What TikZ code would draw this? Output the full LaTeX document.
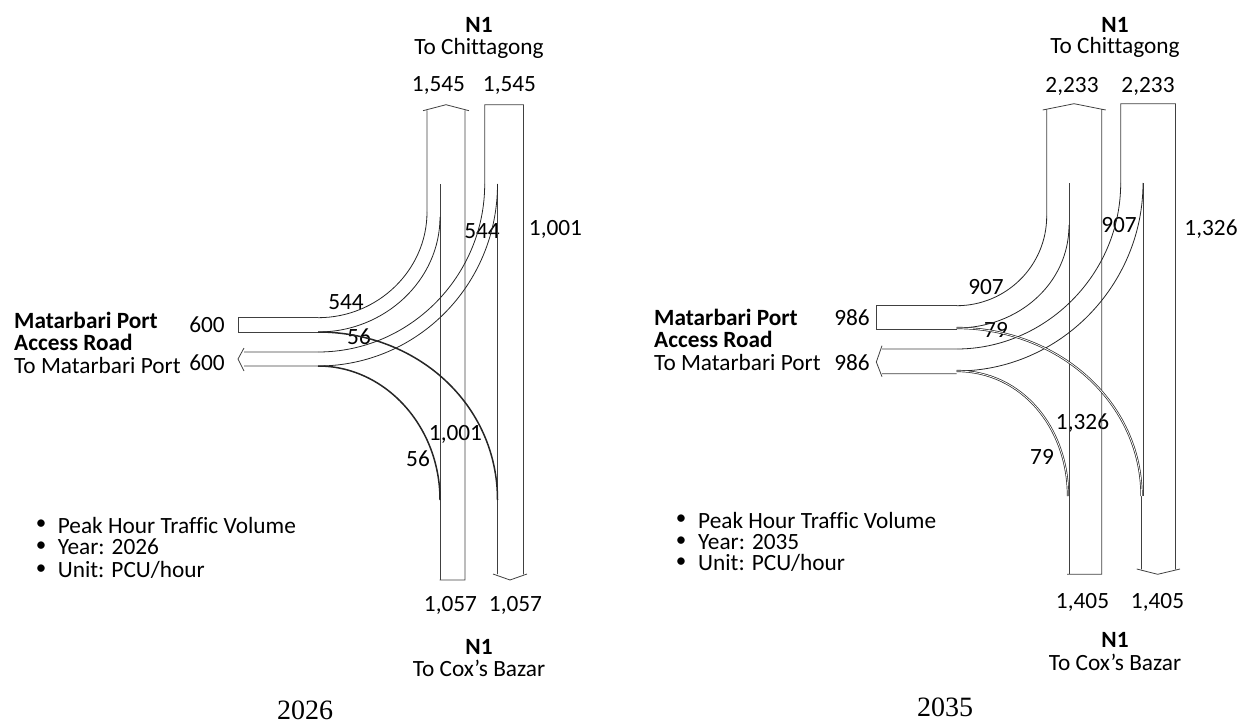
\documentclass[tikz,border=0pt]{standalone}
\usepackage{fontspec}
\setmainfont[Ligatures=NoCommon]{Carlito}
\newfontfamily\yearfont{Liberation Serif}

\tikzset{
  lane/.style={line width=.8pt,color=black!75},
  turn/.style={line width=.8pt,color=black!85},
  thickturn/.style={line width=1.5pt,color=black!85},
  doubleturn/.style={line width=.7pt,double=white,double distance=.8pt,color=black!85},
  lbl/.style={font=\fontsize{23.3}{26}\selectfont,inner sep=0pt},
  lblw/.style={lbl,anchor=west},
  dotlbl/.style={font=\fontsize{21}{24}\selectfont,inner sep=0pt},
  yearlbl/.style={font=\yearfont\fontsize{28}{32}\selectfont,inner sep=0pt}
}

\begin{document}
\begin{tikzpicture}[x=1pt,y=-1pt]
  \useasboundingbox (0,0) rectangle (1238,722);

  % 2026
  \node[lbl] (nNa) at (479,25) {\textbf{N1}};
  \node[lbl] (nCa) at (479,48) {To Chittagong};
  \node[lbl] (upa) at (438.5,85) {1,545};
  \node[lbl] (dna) at (509.5,85) {1,545};
  \node[lbl] (stra) at (555.5,229) {1,001};
  \node[lbl] (lfa) at (346,302) {544};
  \node[lbl] (lfb) at (482,231) {544};
  \node[lbl] (rga) at (359,337) {56};
  \node[lbl] (rgb) at (418,459) {56};
  \node[lbl] (strb) at (455.5,434) {1,001};
  \node[lbl] (ina) at (207,325) {600};
  \node[lbl] (oua) at (207,363) {600};
  \node[lblw] (mpa) at (14,320) {\textbf{Matarbari Port}};
  \node[lblw] (ara) at (14,342) {\textbf{Access Road}};
  \node[lblw] (tma) at (14,365) {To Matarbari Port};
  \node[dotlbl] (bla) at (41,525) {•};
  \node[lblw] (ptla) at (57.7,525) {Peak Hour Traffic Volume};
  \node[dotlbl] (blb) at (41,547) {•};
  \node[lblw] (ptlb) at (57.7,547) {Year: 2026};
  \node[dotlbl] (blc) at (41,570) {•};
  \node[lblw] (ptlc) at (57.7,570) {Unit: PCU/hour};
  \node[lbl] (bta) at (450.5,605) {1,057};
  \node[lbl] (btb) at (515.5,605) {1,057};
  \node[lbl] (nNb) at (479,647) {\textbf{N1}};
  \node[lbl] (nCb) at (479,668) {To Cox’s Bazar};
  \node[yearlbl] (yra) at (305,710.5) {2026};

  \draw[lane] (427,212) -- (427,110.7) (423,110.7) -- (446,104.7) -- (469,110.7) (465,110.7) -- (465,580) -- (439.5,580);
  \draw[lane] (484.7,184) -- (484.7,104.7) -- (523.5,104.7) -- (523.5,574) (493,574) -- (510,580) -- (527,574) (497.5,574) -- (497.5,184);
  \draw[lane] (440,184) -- (440,580);
  \draw[lane] (318,317.7) -- (238,317.7) -- (238,332) -- (318,332);
  \draw[lane] (318,352) -- (244,352) (244,348) -- (238,359) -- (244,371) (244,366) -- (318,366);
  \draw[turn] (427,212) .. controls (427,270) and (378,317.7) .. (318,317.7);
  \draw[turn] (440,217) .. controls (440,280) and (385,332) .. (318,332);
  \draw[turn] (484.7,184) .. controls (484.7,276) and (410,352) .. (318,352);
  \draw[turn] (497.5,184) .. controls (497.5,285) and (417,366) .. (318,366);
  \draw[thickturn] (318,332) .. controls (418,332) and (497.5,405) .. (497.5,500);
  \draw[thickturn] (318,366) .. controls (385,366) and (440,426) .. (440,500);

  % 2035
  \node[lbl] (nNc) at (1115,25) {\textbf{N1}};
  \node[lbl] (nCc) at (1115,47.5) {To Chittagong};
  \node[lbl] (upc) at (1072,86) {2,233};
  \node[lbl] (dnc) at (1148,86) {2,233};
  \node[lbl] (strc) at (1211,229) {1,326};
  \node[lbl] (lfc) at (986,287) {907};
  \node[lbl] (lfd) at (1119,225) {907};
  \node[lbl] (rgc) at (996,330) {79};
  \node[lbl] (rgd) at (1042,457) {79};
  \node[lbl] (strd) at (1082.5,423) {1,326};
  \node[lbl] (inc) at (852,318) {986};
  \node[lbl] (ouc) at (852,363) {986};
  \node[lblw] (mpc) at (654,317) {\textbf{Matarbari Port}};
  \node[lblw] (arc) at (654,339) {\textbf{Access Road}};
  \node[lblw] (tmc) at (654,362) {To Matarbari Port};
  \node[dotlbl] (bld) at (681,520) {•};
  \node[lblw] (ptld) at (698,520) {Peak Hour Traffic Volume};
  \node[dotlbl] (ble) at (681,542) {•};
  \node[lblw] (ptle) at (698,542) {Year: 2035};
  \node[dotlbl] (blf) at (681,563) {•};
  \node[lblw] (ptlf) at (698,563) {Unit: PCU/hour};
  \node[lbl] (btc) at (1082.5,602) {1,405};
  \node[lbl] (btd) at (1157.5,602) {1,405};
  \node[lbl] (nNd) at (1115,640) {\textbf{N1}};
  \node[lbl] (nCd) at (1115,662) {To Cox’s Bazar};
  \node[yearlbl] (yrb) at (945,707) {2035};

  \draw[lane] (1046.7,216) -- (1046.7,110) (1042.7,110) -- (1074,103.7) -- (1105.7,110) (1101.7,110) -- (1101.7,574.3) -- (1067,574.3);
  \draw[lane] (1120.7,183) -- (1120.7,103.7) -- (1175.5,103.7) -- (1175.5,569) (1136.7,569) -- (1157.7,574.3) -- (1180,569) (1141.5,569) -- (1141.5,496);
  \draw[lane] (1069,183) -- (1069,574.3);
  \draw[lane] (1143,183) -- (1143,496);
  \draw[lane] (956.7,305.7) -- (876.3,305.7) -- (876.3,329.3) -- (956.7,329.3);
  \draw[lane] (956.7,349) -- (882,349) (882,345.7) -- (876.3,362) -- (882,376.7) (882,373.7) -- (956.7,373.7);
  \draw[turn] (1046.7,216) .. controls (1046.7,266) and (1006,305.7) .. (956.7,305.7);
  \draw[turn] (1069,225) .. controls (1069,284) and (1018,328) .. (956.7,328);
  \draw[turn] (1120.7,183) .. controls (1120.7,275) and (1045,349) .. (956.7,349);
  \draw[turn] (1143,183) .. controls (1143,285) and (1060,371) .. (956.7,371);
  \draw[doubleturn] (956.7,328) .. controls (1058,328) and (1141.5,402) .. (1141.5,496);
  \draw[doubleturn] (956.7,371) .. controls (1022,371) and (1068,428) .. (1068,496);
\end{tikzpicture}
\end{document}
